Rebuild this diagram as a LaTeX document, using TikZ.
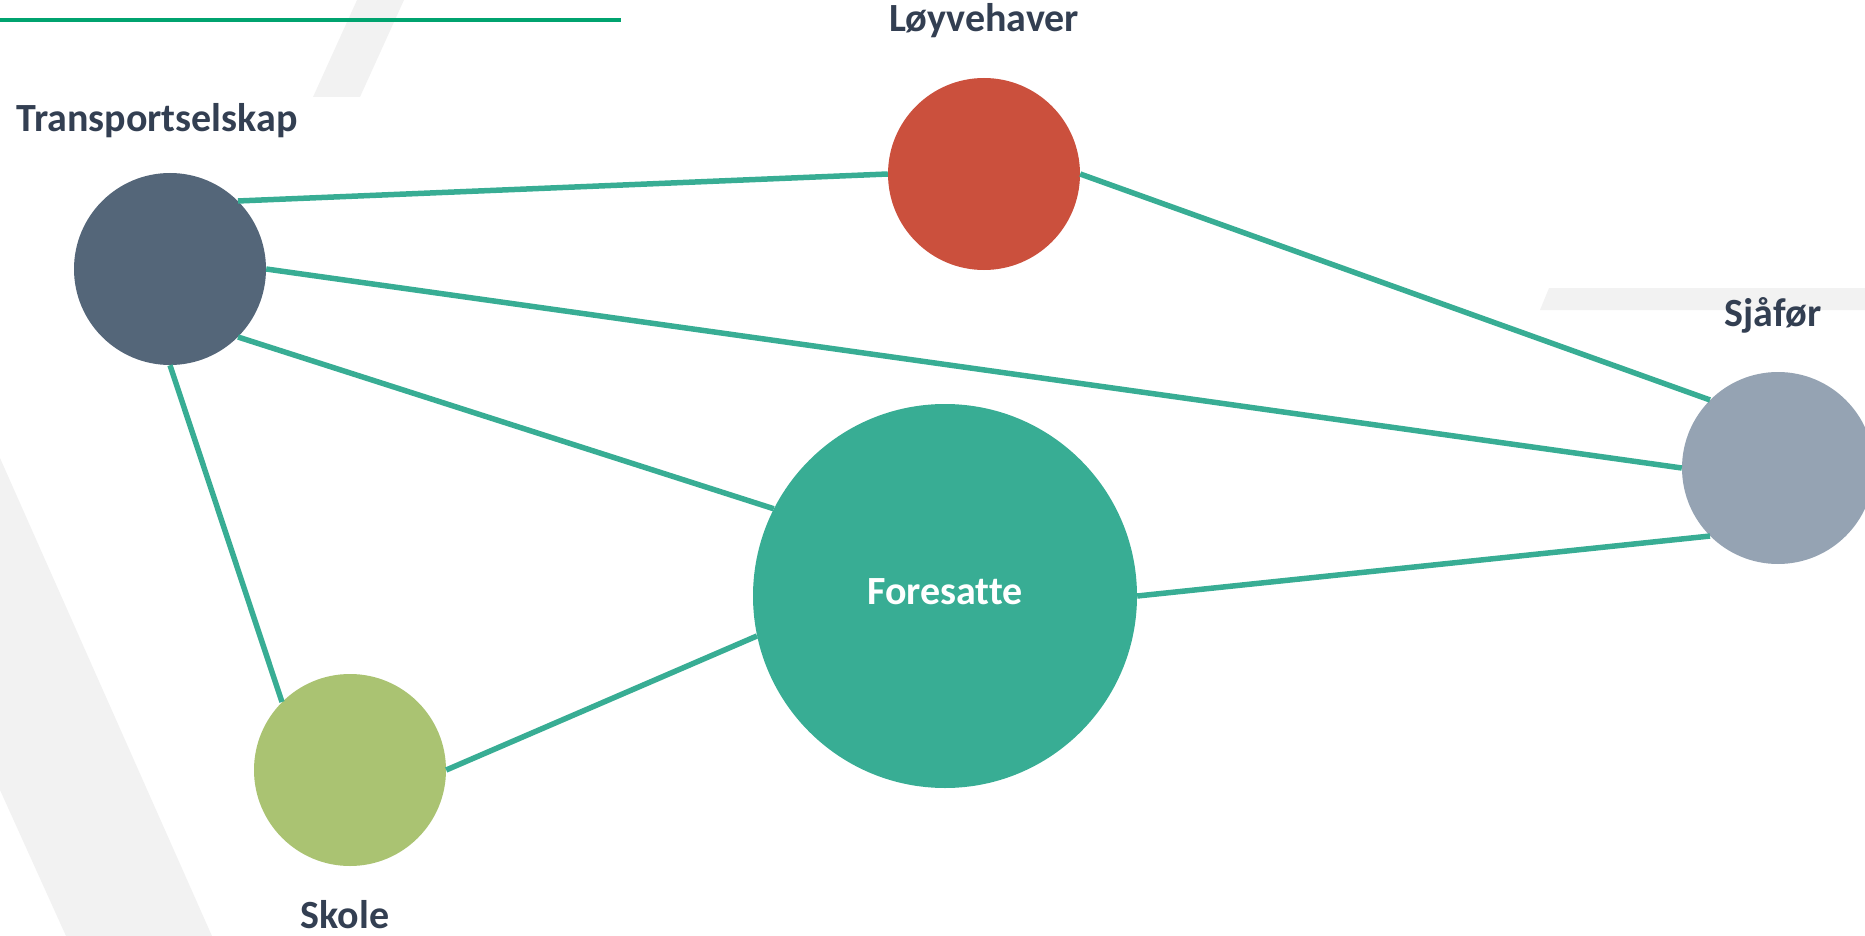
\documentclass[tikz,border=0pt]{standalone}
\usepackage{fontspec}
\setmainfont{Carlito}[Ligatures=CommonOff]
\usetikzlibrary{positioning}

\definecolor{tsgrey}{HTML}{546679}
\definecolor{lhred}{HTML}{CB503D}
\definecolor{sjgrey}{HTML}{95A3B3}
\definecolor{fogreen}{HTML}{38AD94}
\definecolor{skgreen}{HTML}{AAC372}
\definecolor{lblblue}{HTML}{333F52}
\definecolor{bggrey}{HTML}{F2F2F2}
\definecolor{rulegreen}{HTML}{00A36F}

\begin{document}
\begin{tikzpicture}[x=1pt,y=-1pt,node distance=150pt,
  actor/.style={circle,inner sep=0pt,minimum size=192pt},
  lbl/.style={font=\bfseries\fontsize{40}{48}\selectfont,text=lblblue,
    text height=25pt,text depth=9pt,inner sep=0pt},
  link/.style={line width=5.5pt,draw=fogreen}]
  \useasboundingbox (0,0) rectangle (1865,936);

  % background shapes
  \fill[bggrey] (357,0) -- (404,0) -- (360,97) -- (313,97) -- cycle;
  \fill[bggrey] (1549,288) -- (1865,288) -- (1865,310) -- (1540,310) -- cycle;
  \fill[bggrey] (0,458) -- (212,936) -- (66,936) -- (0,790) -- cycle;
  \draw[rulegreen,line width=4.5pt] (0,20) -- (621,20);

  % actors
  \node[actor,fill=tsgrey]  (ts) at (170,269) {};
  \node[actor,fill=lhred]   (lh) at (984,174) {};
  \node[actor,fill=sjgrey]  (sj) at (1778,468) {};
  \node[actor,fill=fogreen,minimum size=384pt] (fo) at (945,596) {};
  \node[actor,fill=skgreen] (sk) at (350,770) {};

  % links
  \path[link] (ts.45)  edge (lh.west)
              (ts.east) edge (sj.west)
              (ts.-45) edge (fo.153)
              (ts.south) edge (sk.135)
              (lh.east) edge (sj.135)
              (fo.east) edge (sj.225)
              (sk.east) edge (fo.192);

  % labels
  \node[lbl] (tslbl) [above of=ts,xshift=-13pt,yshift=-5pt] {Transportselskap};
  \node[lbl] (lhlbl) [above of=lh] {Løyvehaver};
  \node[lbl] (sjlbl) [above of=sj,xshift=-5pt] {Sjåfør};
  \node[lbl] (sklbl) [below of=sk,xshift=-5pt] {Skole};
  \node[lbl,text=white] (folbl) at (fo) {Foresatte};
\end{tikzpicture}
\end{document}
